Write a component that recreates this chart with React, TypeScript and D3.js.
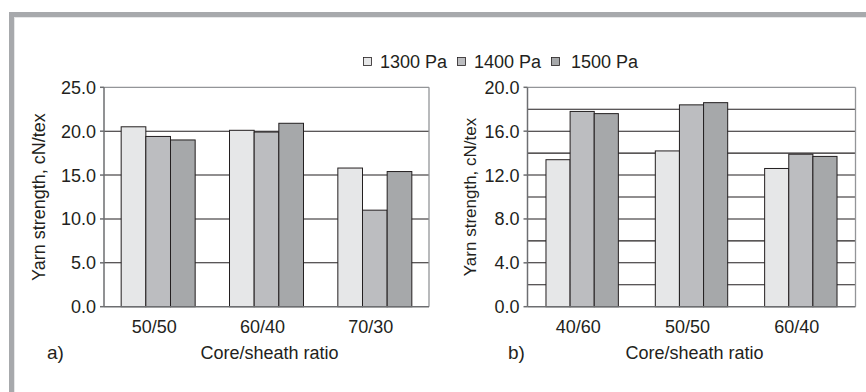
import React from 'react';
import * as d3 from 'd3';

const seriesNames = ['1300 Pa', '1400 Pa', '1500 Pa'];
const seriesColors = ['#e6e7e8', '#bcbdc0', '#a6a8aa'];

const categoriesA = ['50/50', '60/40', '70/30'];
const a1300 = [20.5, 20.1, 15.8];
const a1400 = [19.4, 19.9, 11.0];
const a1500 = [19.0, 20.9, 15.4];
const ticksA = [0, 5, 10, 15, 20, 25];
const gridA = [5, 10, 15, 20];

const categoriesB = ['40/60', '50/50', '60/40'];
const b1300 = [13.4, 14.2, 12.6];
const b1400 = [17.8, 18.4, 13.9];
const b1500 = [17.6, 18.6, 13.7];
const ticksB = [0, 4, 8, 12, 16, 20];
const gridB = [2, 4, 6, 8, 10, 12, 14, 16, 18];

const FONT = '"Liberation Sans", Arial, sans-serif';
const TXT = '#231f20';

type PanelProps = {
  left: number; right: number; top: number; bottom: number;
  categories: string[]; series: number[][]; max: number;
  ticks: number[]; grid: number[]; groupFrac: number;
  ylabelX: number; ylabelSize: number; tag: string; tagX: number;
};

function Panel(p: PanelProps) {
  const y = d3.scaleLinear().domain([0, p.max]).range([p.bottom, p.top]);
  const inner = 1 - p.groupFrac;
  const x = d3.scaleBand<string>().domain(p.categories).range([p.left, p.right])
    .paddingInner(inner).paddingOuter(inner / 2);
  const xs = d3.scaleBand<number>().domain(d3.range(p.series.length)).range([0, x.bandwidth()]).padding(0);
  const cx = (p.left + p.right) / 2;
  return (
    <g>
      {p.grid.map((g) => (
        <line key={'g' + g} x1={p.left} x2={p.right} y1={y(g)} y2={y(g)} stroke="#231f20" strokeWidth={1.1} />
      ))}
      <line x1={p.left} x2={p.right} y1={y(p.max)} y2={y(p.max)} stroke="#939598" strokeWidth={1.3} />
      <line x1={p.right} x2={p.right} y1={y(p.max)} y2={y(0)} stroke="#939598" strokeWidth={1.3} />
      {p.categories.map((c, ci) =>
        p.series.map((s, si) => (
          <rect key={c + si} x={(x(c) as number) + (xs(si) as number)} y={y(s[ci])}
            width={xs.bandwidth()} height={y(0) - y(s[ci])}
            fill={seriesColors[si]} stroke="#231f20" strokeWidth={1} />
        ))
      )}
      <line x1={p.left} x2={p.left} y1={y(p.max)} y2={y(0)} stroke="#6d6e71" strokeWidth={1.5} />
      <line x1={p.left} x2={p.right} y1={y(0)} y2={y(0)} stroke="#6d6e71" strokeWidth={1.5} />
      {p.ticks.map((t) => (
        <g key={'t' + t}>
          <line x1={p.left - 4} x2={p.left} y1={y(t)} y2={y(t)} stroke="#6d6e71" strokeWidth={1.5} />
          <text x={p.left - 8} y={y(t) + 6.5} textAnchor="end" fontSize={18} fontFamily={FONT} fill={TXT}>
            {t.toFixed(1)}
          </text>
        </g>
      ))}
      {p.categories.map((c) => (
        <text key={'c' + c} x={(x(c) as number) + x.bandwidth() / 2 - 4} y={333} textAnchor="middle"
          fontSize={18} fontFamily={FONT} fill={TXT}>{c}</text>
      ))}
      <text x={cx + 3} y={359} textAnchor="middle" fontSize={18} fontFamily={FONT} fill={TXT}>Core/sheath ratio</text>
      <text x={p.tagX} y={359} fontSize={19} fontFamily={FONT} fill={TXT}>{p.tag}</text>
      <text transform={`translate(${p.ylabelX},${(p.top + p.bottom) / 2}) rotate(-90)`} textAnchor="middle"
        fontSize={p.ylabelSize} fontFamily={FONT} fill={TXT}>Yarn strength, cN/tex</text>
    </g>
  );
}

export default function App() {
  const W = 866, H = 392;
  const legendItems = [
    { sq: 363, tx: 380 },
    { sq: 457, tx: 474 },
    { sq: 551, tx: 571 },
  ];
  return (
    <svg width={W} height={H} style={{ position: 'absolute', left: 0, top: 0, background: '#fff' }}>
      <rect x={0} y={0} width={W} height={H} fill="#fff" />
      <rect x={9} y={12} width={W - 9} height={5} fill="#a7a9ac" />
      <rect x={9} y={12} width={5} height={H - 12} fill="#a7a9ac" />
      <line x1={14} x2={W} y1={17.5} y2={17.5} stroke="#e6e7e8" strokeWidth={1} />
      <line x1={14.5} x2={14.5} y1={17} y2={H} stroke="#e6e7e8" strokeWidth={1} />
      {seriesNames.map((n, i) => (
        <g key={n}>
          <rect x={legendItems[i].sq + 0.5} y={57.5} width={8} height={8} fill={seriesColors[i]} stroke="#231f20" strokeWidth={0.8} />
          <text x={legendItems[i].tx} y={67.5} fontSize={18} fontFamily={FONT} fill={TXT}>{n}</text>
        </g>
      ))}
      <Panel left={104} right={429} top={87.3} bottom={306.7} categories={categoriesA}
        series={[a1300, a1400, a1500]} max={25} ticks={ticksA} grid={gridA} groupFrac={0.683}
        ylabelX={44.5} ylabelSize={18} tag="a)" tagX={47} />
      <Panel left={527.5} right={855.5} top={87.3} bottom={306.7} categories={categoriesB}
        series={[b1300, b1400, b1500]} max={20} ticks={ticksB} grid={gridB} groupFrac={0.662}
        ylabelX={476} ylabelSize={17} tag="b)" tagX={508} />
    </svg>
  );
}
